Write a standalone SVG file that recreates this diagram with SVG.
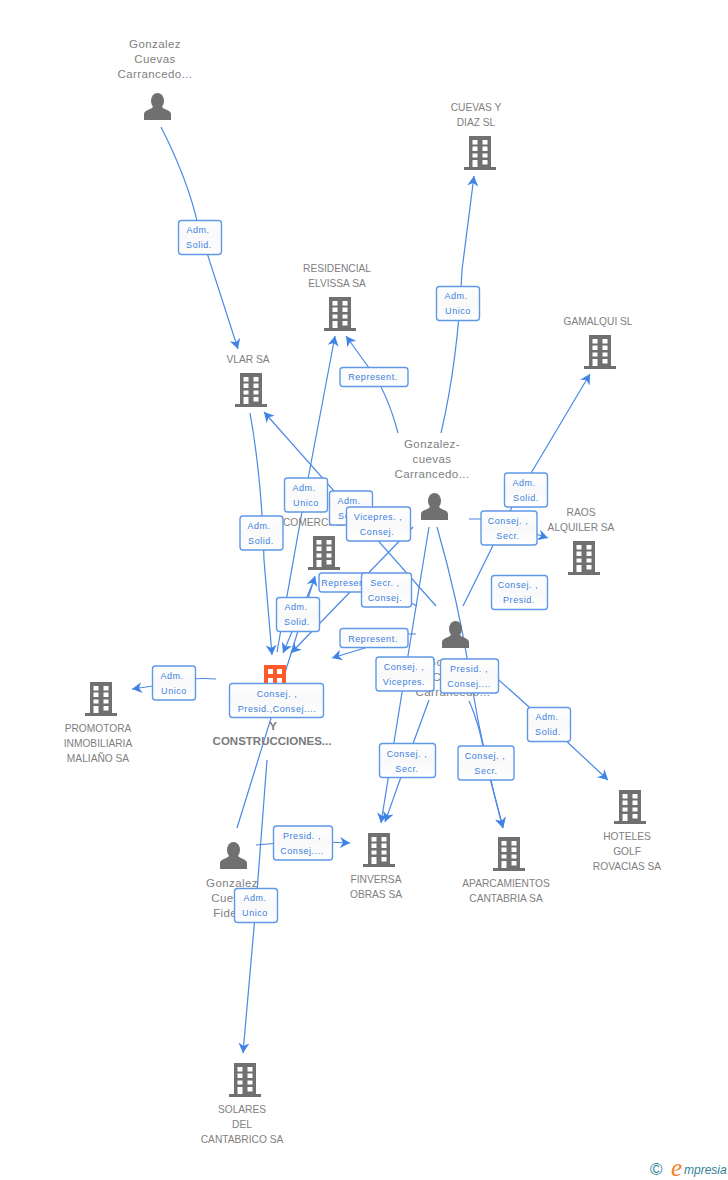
<svg xmlns="http://www.w3.org/2000/svg" width="728" height="1180" viewBox="0 0 728 1180">
<style>
.n{font:11.5px "Liberation Sans",Arial,sans-serif;letter-spacing:.4px;fill:#808080;text-anchor:middle}
.c{font:10.2px "Liberation Sans",Arial,sans-serif;fill:#808080;text-anchor:middle}
.b{font:bold 11.5px "Liberation Sans",Arial,sans-serif;fill:#7a7a7a;text-anchor:middle}
.e{fill:none;stroke:#4a88e6;stroke-width:1.2;marker-end:url(#a)}
.l rect{fill:url(#g);stroke:#5f98e8;stroke-width:1.4}
.l text{font:9px "Liberation Sans",Arial,sans-serif;letter-spacing:.55px;fill:#3b7fe0;text-anchor:middle}
</style>
<defs>
<linearGradient id="g" x1="0" y1="0" x2="0" y2="1"><stop offset="0" stop-color="#fff"/><stop offset=".5" stop-color="#f9f9f9"/><stop offset="1" stop-color="#fff"/></linearGradient>
<marker id="a" markerUnits="userSpaceOnUse" markerWidth="12" markerHeight="12" refX="10" refY="6" orient="auto" viewBox="0 0 12 12"><path d="M0 .5L10 6L0 11.500L3 6Z" fill="#3f84e5"/></marker>
<g id="bld"><path fill="#707070" d="M-11 0H11V31H16V34H-16V31H-11Z"/><path fill="#fff" d="M-7.5 4H-2.5V8.500H-7.500ZM2.500 4H7.500V8.500H2.500ZM-7.500 10.500H-2.500V15H-7.500ZM2.500 10.500H7.500V15H2.500ZM-7.500 17.500H-2.500V21.500H-7.500ZM2.500 17.500H7.500V21.500H2.500ZM-7.500 24H-2.500V31H-7.500ZM2.500 24H7.500V28.500H2.500Z"/></g>
<g id="psn" fill="#707070"><ellipse cx="0" cy="8" rx="6.500" ry="8"/><path d="M-13.500 27V21C-13.500 17-6.500 17-3.500 13H3.500C6.500 17 13.500 17 13.500 21V27Z"/></g>
</defs>

<g id="connectors">
<path class="e" d="M161 127Q188 180 198 225L238 349"/>
<path class="e" d="M441 433Q458 360 462 270L474 176"/>
<path class="e" d="M398 433Q388 395 372 372L346 336"/>
<path class="e" d="M463 606L518 495L590 374"/>
<path class="e" d="M469 519H490L548 538"/>
<path class="e" d="M250 413Q262 480 264 560L272 655"/>
<path class="e" d="M277 652L305 495L335 336"/>
<path class="e" d="M436 606L264 412"/>
<path class="e" d="M413 527L291 653"/>
<path class="e" d="M417 606L386 590L357 577"/>
<path class="e" d="M315 578L283 653"/>
<path class="e" d="M237 828L315 576"/>
<path class="e" d="M416 634H405L368 647L332 658"/>
<path class="e" d="M216 679Q190 677 174 683L132 689"/>
<path class="e" d="M429 527L405 674L381 823"/>
<path class="e" d="M429 700L407 760L385 822"/>
<path class="e" d="M437 527Q458 600 470 675T503 828"/>
<path class="e" d="M469 701Q480 725 486 763L503 828"/>
<path class="e" d="M490 672L548 724L608 780"/>
<path class="e" d="M256 845L303 841L350 843"/>
<path class="e" d="M267 760L256 905L243 1053"/>
</g>

<g id="n1"><text class="n" x="155" y="48">Gonzalez</text><text class="n" x="155" y="63">Cuevas</text><text class="n" x="155" y="78">Carrancedo...</text><use href="#psn" x="157.500" y="93"/></g>
<g id="n2"><text class="c" x="476" y="111">CUEVAS Y</text><text class="c" x="476" y="126">DIAZ SL</text><use href="#bld" x="480" y="136"/></g>
<g id="n3"><text class="c" x="337" y="272">RESIDENCIAL</text><text class="c" x="337" y="287">ELVISSA SA</text><use href="#bld" x="340" y="297"/></g>
<g id="n4"><text class="c" x="598" y="325">GAMALQUI SL</text><use href="#bld" x="600" y="335"/></g>
<g id="n5"><text class="c" x="248" y="363">VLAR SA</text><use href="#bld" x="251" y="373"/></g>
<g id="n6"><text class="c" x="581" y="516">RAOS</text><text class="c" x="581" y="531">ALQUILER SA</text><use href="#bld" x="584" y="541"/></g>
<g id="n7"><text class="c" x="283" y="526" style="text-anchor:start">COMERCIAL SA</text><use href="#bld" x="324" y="536"/></g>
<g id="n8"><text class="n" x="432" y="448">Gonzalez-</text><text class="n" x="432" y="463">cuevas</text><text class="n" x="432" y="478">Carrancedo...</text><use href="#psn" x="434.500" y="493"/></g>
<g id="n9"><use href="#psn" x="455.500" y="621"/><text class="n" x="453" y="666">Gonzalez</text><text class="n" x="453" y="681">Cuevas</text><text class="n" x="453" y="696">Carrancedo...</text></g>
<g id="n10"><rect x="264" y="665" width="22" height="24" fill="#ff5a2a"/><path fill="#fff" d="M268 669h5v5h-5zM277 669h5v5h-5zM268 678h5v5h-5zM277 678h5v5h-5z"/><text class="b" x="273" y="730">Y</text><text class="b" x="272" y="745">CONSTRUCCIONES...</text></g>
<g id="n11"><use href="#bld" x="101" y="682"/><text class="c" x="98" y="732">PROMOTORA</text><text class="c" x="98" y="747">INMOBILIARIA</text><text class="c" x="98" y="762">MALIAÑO SA</text></g>
<g id="n12"><use href="#bld" x="630" y="790"/><text class="c" x="627" y="840">HOTELES</text><text class="c" x="627" y="855">GOLF</text><text class="c" x="627" y="870">ROVACIAS SA</text></g>
<g id="n13"><use href="#bld" x="379" y="833"/><text class="c" x="376" y="883">FINVERSA</text><text class="c" x="376" y="898">OBRAS SA</text></g>
<g id="n14"><use href="#bld" x="509" y="837"/><text class="c" x="506" y="887">APARCAMIENTOS</text><text class="c" x="506" y="902">CANTABRIA SA</text></g>
<g id="n15"><use href="#psn" x="233.500" y="842"/><text class="n" x="232" y="887">Gonzalez</text><text class="n" x="232" y="902">Cuevas</text><text class="n" x="232" y="917">Fidel...</text></g>
<g id="n16"><use href="#bld" x="245" y="1063"/><text class="c" x="242" y="1113">SOLARES</text><text class="c" x="242" y="1128">DEL</text><text class="c" x="242" y="1143">CANTABRICO SA</text></g>

<g id="labels">
<g class="l"><rect x="178.500" y="220.500" width="43" height="34" rx="3"/><text x="198" y="233">Adm.</text><text x="199" y="248">Solid.</text></g>
<g class="l"><rect x="436.500" y="286.500" width="43" height="34" rx="3"/><text x="456" y="299">Adm.</text><text x="458" y="314">Unico</text></g>
<g class="l"><rect x="340" y="367.500" width="68" height="19" rx="3"/><text x="373" y="380">Represent.</text></g>
<g class="l"><rect x="504.500" y="473" width="43" height="34" rx="3"/><text x="524" y="486">Adm.</text><text x="526" y="501">Solid.</text></g>
<g class="l"><rect x="481" y="511" width="56" height="34" rx="3"/><text x="508" y="524">Consej. ,</text><text x="508" y="539">Secr.</text></g>
<g class="l"><rect x="491.500" y="575.500" width="56" height="34" rx="3"/><text x="518" y="588">Consej. ,</text><text x="519" y="603">Presid.</text></g>
<g class="l"><rect x="240" y="516" width="43" height="34" rx="3"/><text x="259" y="529">Adm.</text><text x="261" y="544">Solid.</text></g>
<g class="l"><rect x="284.500" y="478" width="43" height="34" rx="3"/><text x="304" y="491">Adm.</text><text x="306" y="506">Unico</text></g>
<g class="l"><rect x="329.500" y="491" width="43" height="34" rx="3"/><text x="349" y="504">Adm.</text><text x="351" y="519">Solid.</text></g>
<g class="l"><rect x="319" y="573" width="50" height="19" rx="3"/><text x="346" y="586">Represent.</text></g>
<g class="l"><rect x="346.500" y="507" width="64" height="34" rx="3"/><text x="378" y="520">Vicepres. ,</text><text x="377" y="535">Consej.</text></g>
<g class="l"><rect x="361.500" y="573" width="50" height="34" rx="3"/><text x="385" y="586">Secr. ,</text><text x="385" y="601">Consej.</text></g>
<g class="l"><rect x="276.500" y="597.500" width="43" height="34" rx="3"/><text x="296" y="610">Adm.</text><text x="297" y="625">Solid.</text></g>
<g class="l"><rect x="340" y="628.500" width="68" height="19" rx="3"/><text x="373" y="642">Represent.</text></g>
<g class="l"><rect x="152.500" y="666" width="43" height="34" rx="3"/><text x="172" y="679">Adm.</text><text x="174" y="694">Unico</text></g>
<g class="l"><rect x="229.500" y="683.500" width="94" height="34" rx="3"/><text x="277" y="697">Consej. ,</text><text x="277" y="712">Presid.,Consej....</text></g>
<g class="l"><rect x="376" y="657" width="58" height="34" rx="3"/><text x="404" y="670">Consej. ,</text><text x="404" y="685">Vicepres.</text></g>
<g class="l"><rect x="440.500" y="659" width="58" height="34" rx="3"/><text x="469" y="672">Presid. ,</text><text x="469" y="687">Consej....</text></g>
<g class="l"><rect x="527.500" y="707.500" width="43" height="34" rx="3"/><text x="547" y="720">Adm.</text><text x="548" y="735">Solid.</text></g>
<g class="l"><rect x="379.500" y="743.500" width="56" height="34" rx="3"/><text x="407" y="757">Consej. ,</text><text x="407" y="772">Secr.</text></g>
<g class="l"><rect x="458" y="746" width="56" height="34" rx="3"/><text x="485" y="759">Consej. ,</text><text x="486" y="774">Secr.</text></g>
<g class="l"><rect x="273.500" y="826" width="59" height="34" rx="3"/><text x="302" y="839">Presid. ,</text><text x="302" y="854">Consej....</text></g>
<g class="l"><rect x="234.500" y="888.500" width="43" height="34" rx="3"/><text x="255" y="901">Adm.</text><text x="255" y="916">Unico</text></g>
</g>

<g id="logo"><text x="650" y="1175" font-family="Liberation Sans,sans-serif" font-size="17" fill="#2f7f96">©</text><text x="671" y="1176" font-family="Liberation Serif,serif" font-style="italic" font-size="25" fill="#f5811f">e</text><text x="684" y="1174" font-family="Liberation Sans,sans-serif" font-style="italic" font-size="12" fill="#2f7f96">mpresia</text></g>
</svg>
